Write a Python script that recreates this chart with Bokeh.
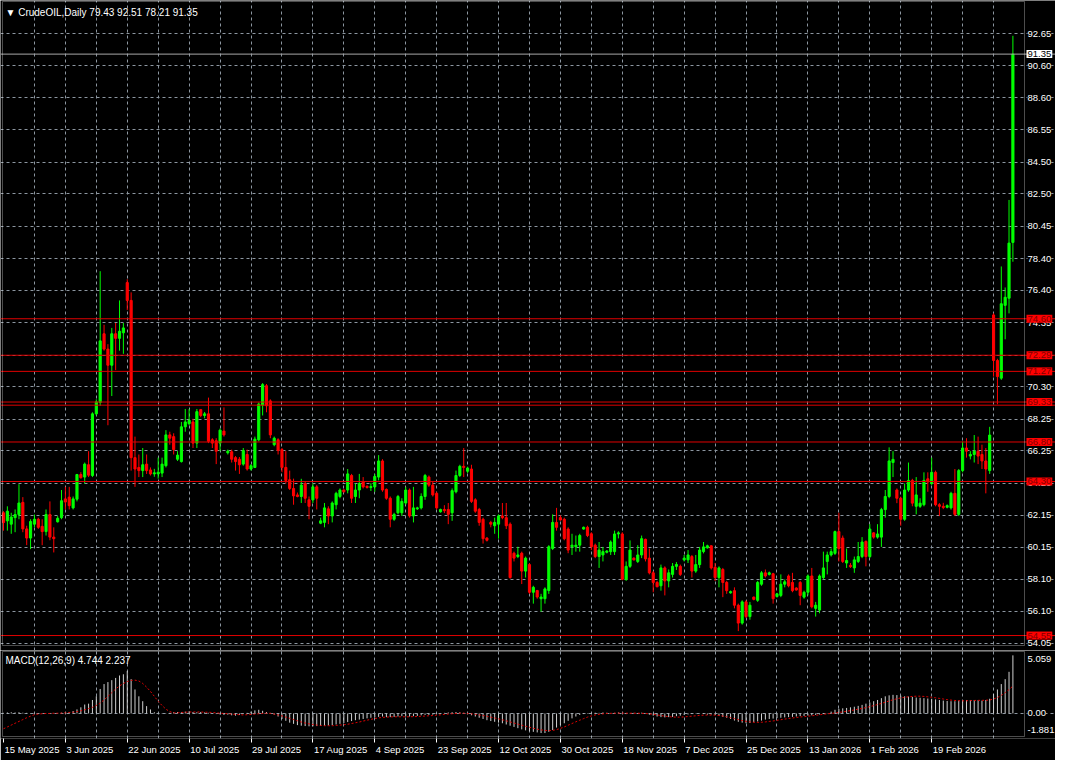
from bokeh.plotting import figure
from bokeh.models import (Range1d, LinearAxis, FixedTicker, Grid, Span, Label,
                          BoxAnnotation, ColumnDataSource)
from bokeh.layouts import column
from bokeh.embed import file_html
from bokeh.resources import INLINE

# ---------------- data ----------------
symbol = "CrudeOIL,Daily"
macd_params = "MACD(12,26,9)"

opens = [
    62.32, 61.81, 61.60, 62.01, 62.21, 62.98, 61.30, 60.72, 61.60, 61.91,
    61.46, 61.13, 62.21, 60.78, 61.75, 62.01, 63.20, 63.31, 62.63, 63.18,
    64.74, 64.58, 65.36, 64.68, 68.58, 69.30, 73.65, 72.68, 71.66, 73.65,
    73.36, 73.71, 76.89, 75.76, 65.81, 65.19, 64.99, 65.40, 65.03, 64.78,
    64.78, 64.83, 65.30, 67.25, 67.14, 65.71, 65.56, 67.76, 67.96, 68.07,
    66.73, 68.85, 68.48, 68.58, 66.94, 66.88, 66.73, 67.49, 66.12, 66.18,
    65.81, 65.71, 65.40, 66.01, 65.09, 65.19, 66.94, 69.13, 70.36, 69.40,
    66.63, 66.94, 66.32, 65.19, 64.41, 63.86, 63.45, 63.35, 64.17, 63.14,
    63.14, 63.96, 61.66, 61.71, 62.57, 62.12, 62.83, 63.35, 63.76, 63.76,
    64.68, 63.35, 63.76, 64.27, 64.00, 63.92, 63.96, 64.58, 65.60, 63.80,
    63.24, 61.91, 62.32, 62.32, 62.94, 63.76, 62.12, 62.57, 62.63, 63.35,
    64.58, 64.07, 63.55, 62.38, 62.53, 62.53, 62.32, 63.65, 64.68, 65.26,
    64.95, 65.09, 63.14, 62.53, 61.91, 60.72, 61.71, 61.50, 61.60, 62.12,
    62.01, 61.60, 59.76, 59.55, 59.76, 58.63, 59.04, 57.29, 57.40, 56.88,
    56.88, 57.40, 60.06, 61.71, 62.01, 61.91, 61.29, 60.17, 60.17, 60.27,
    61.29, 61.40, 60.99, 60.27, 59.55, 59.65, 59.82, 59.86, 59.86, 60.98,
    60.98, 58.11, 58.93, 59.45, 59.24, 59.65, 60.64, 59.45, 58.52, 57.91,
    57.70, 58.83, 58.01, 58.42, 58.93, 58.93, 59.34, 59.34, 59.55, 58.63,
    59.04, 59.86, 60.10, 60.23, 58.87, 58.22, 58.73, 57.91, 57.25, 57.39,
    56.47, 55.34, 56.68, 55.75, 56.98, 56.78, 57.80, 58.52, 58.42, 58.46,
    57.02, 57.09, 57.80, 58.32, 57.91, 57.56, 57.91, 56.98, 57.29, 58.32,
    56.27, 56.16, 58.22, 59.24, 59.65, 59.75, 61.13, 60.72, 59.14, 58.99,
    58.83, 59.24, 59.55, 60.51, 59.55, 61.05, 60.78, 60.78, 62.52, 63.35,
    65.50, 63.76, 63.24, 61.91, 63.76, 64.37, 62.73, 62.73, 62.83, 64.47,
    64.17, 64.88, 62.83, 62.73, 62.67, 62.63, 63.55, 62.22, 64.99, 66.42,
    65.91, 66.01, 66.22, 66.01, 65.60, 64.99, 74.84, 71.96, 70.84, 75.45,
    75.90, 79.43,
]
highs = [
    62.42, 62.73, 62.32, 62.53, 64.13, 63.31, 61.50, 61.91, 62.21, 62.01,
    61.91, 62.53, 63.04, 61.40, 62.11, 63.76, 63.96, 63.96, 63.35, 64.78,
    64.89, 65.50, 66.22, 68.68, 69.50, 77.61, 74.22, 72.99, 74.02, 74.33,
    75.76, 74.33, 77.10, 76.27, 67.14, 66.01, 66.42, 66.01, 65.19, 65.10,
    65.81, 65.81, 67.55, 67.45, 67.35, 66.22, 68.07, 68.89, 68.89, 68.27,
    68.89, 68.89, 68.70, 69.61, 67.04, 67.04, 67.65, 68.99, 66.32, 66.32,
    65.91, 65.85, 66.42, 66.32, 65.40, 67.14, 69.30, 70.53, 70.47, 69.50,
    67.14, 67.04, 66.42, 66.22, 64.99, 64.48, 63.60, 64.47, 64.27, 63.35,
    64.17, 64.07, 62.01, 62.94, 62.73, 63.04, 63.65, 63.86, 63.80, 65.09,
    64.78, 64.17, 64.78, 64.58, 64.05, 64.20, 64.78, 65.97, 65.71, 63.86,
    63.35, 62.32, 63.45, 63.24, 63.96, 63.86, 63.96, 62.70, 63.55, 64.78,
    64.68, 64.27, 63.65, 62.58, 62.80, 62.94, 63.86, 64.99, 65.36, 66.42,
    65.24, 65.36, 63.24, 62.63, 62.01, 60.78, 61.81, 62.01, 62.22, 62.94,
    62.94, 61.71, 59.86, 60.17, 59.86, 59.55, 59.14, 57.70, 57.44, 57.19,
    57.60, 60.27, 62.22, 62.63, 62.16, 62.01, 61.40, 60.99, 60.88, 60.99,
    61.45, 61.50, 61.09, 60.37, 60.47, 60.16, 59.96, 60.57, 61.19, 61.15,
    61.09, 59.24, 60.57, 59.50, 60.27, 60.88, 60.68, 60.06, 58.63, 58.01,
    59.04, 58.93, 58.73, 59.14, 59.20, 59.04, 59.65, 59.96, 59.65, 59.65,
    60.16, 60.47, 60.30, 60.27, 59.14, 58.93, 58.83, 58.01, 57.40, 57.60,
    56.57, 56.78, 56.78, 56.68, 57.02, 58.01, 58.63, 58.73, 58.60, 58.52,
    57.25, 58.42, 58.10, 58.42, 58.52, 57.60, 58.01, 57.39, 58.42, 58.83,
    56.68, 58.42, 59.86, 59.86, 60.06, 61.19, 62.32, 60.88, 60.06, 59.14,
    59.55, 60.47, 60.78, 60.57, 61.60, 61.09, 61.60, 62.63, 63.76, 66.46,
    66.22, 63.86, 63.34, 64.17, 65.50, 64.47, 64.58, 63.24, 64.88, 64.88,
    65.81, 64.99, 62.93, 62.95, 62.85, 63.65, 65.09, 65.09, 66.83, 67.04,
    66.22, 67.24, 67.14, 66.63, 66.42, 67.76, 74.94, 72.07, 77.91, 76.58,
    82.12, 92.51,
]
lows = [
    61.19, 61.19, 60.99, 61.09, 61.91, 61.09, 60.27, 60.02, 61.40, 61.30,
    60.27, 60.88, 60.58, 59.81, 61.70, 61.91, 62.53, 62.53, 62.53, 63.04,
    64.48, 64.17, 64.58, 64.58, 68.48, 69.09, 72.58, 67.86, 69.71, 71.35,
    72.58, 72.38, 75.15, 64.99, 63.96, 64.58, 64.58, 64.78, 64.68, 64.60,
    64.48, 64.58, 65.19, 66.63, 66.01, 65.60, 65.50, 67.45, 67.86, 66.42,
    66.42, 68.37, 68.30, 66.73, 66.42, 65.40, 66.22, 67.14, 66.01, 65.50,
    64.99, 64.78, 65.30, 64.99, 64.99, 65.15, 66.84, 68.48, 68.68, 67.04,
    66.53, 66.01, 64.89, 64.17, 63.76, 62.83, 63.30, 62.94, 62.94, 61.91,
    62.94, 62.53, 61.60, 61.40, 61.60, 61.71, 62.53, 63.24, 63.60, 63.55,
    62.94, 62.94, 63.24, 63.86, 63.85, 63.70, 63.65, 64.37, 63.65, 63.14,
    61.40, 61.81, 62.22, 62.12, 62.83, 62.01, 61.71, 62.50, 62.53, 63.14,
    63.96, 63.35, 62.53, 62.33, 62.30, 61.60, 61.81, 63.55, 64.58, 64.58,
    64.83, 62.94, 62.32, 61.50, 60.37, 60.50, 61.40, 60.99, 60.68, 61.91,
    61.29, 58.15, 59.24, 59.45, 57.81, 58.22, 57.19, 56.57, 56.88, 56.06,
    56.57, 57.19, 59.96, 61.19, 61.81, 60.58, 59.76, 59.65, 59.86, 59.86,
    61.25, 60.78, 59.96, 59.45, 58.83, 59.24, 59.75, 59.65, 59.65, 60.70,
    58.05, 58.01, 58.83, 59.30, 59.14, 59.45, 59.24, 58.42, 57.29, 57.60,
    57.39, 57.09, 57.60, 58.22, 58.70, 58.32, 59.24, 59.14, 58.22, 58.52,
    58.83, 59.75, 60.05, 58.73, 58.01, 57.60, 56.98, 57.19, 57.20, 56.27,
    54.83, 55.24, 55.65, 55.55, 56.78, 56.68, 57.70, 58.22, 58.35, 56.57,
    56.95, 56.98, 57.60, 57.60, 57.29, 57.40, 56.47, 56.88, 57.09, 56.27,
    55.75, 55.96, 58.11, 58.42, 59.55, 59.65, 59.24, 59.14, 58.83, 58.83,
    58.52, 59.14, 59.45, 58.93, 59.45, 60.68, 60.68, 60.16, 62.01, 63.24,
    64.58, 62.93, 61.50, 61.81, 63.65, 62.73, 62.22, 62.63, 62.73, 63.65,
    64.07, 62.73, 62.11, 62.55, 62.60, 62.52, 62.11, 62.11, 64.88, 65.81,
    65.70, 65.50, 65.40, 65.09, 63.55, 64.78, 70.94, 69.19, 70.73, 73.30,
    74.94, 78.21,
]
closes = [
    61.70, 62.42, 62.05, 62.21, 62.94, 61.30, 60.72, 61.77, 61.91, 61.40,
    61.13, 62.21, 60.78, 60.68, 61.97, 63.08, 63.00, 62.77, 63.20, 64.74,
    64.54, 65.40, 64.70, 68.58, 69.34, 73.20, 72.68, 71.66, 73.65, 73.36,
    73.81, 74.02, 75.76, 65.81, 65.09, 64.99, 65.36, 64.99, 64.78, 64.85,
    64.89, 65.40, 67.25, 67.04, 66.32, 65.97, 67.76, 68.07, 68.17, 66.73,
    68.72, 68.48, 68.58, 66.84, 66.73, 66.22, 67.55, 67.25, 66.22, 65.71,
    65.56, 65.36, 66.26, 65.09, 65.30, 66.98, 69.20, 70.43, 69.09, 67.25,
    67.04, 66.26, 65.19, 64.37, 63.86, 63.39, 63.35, 64.07, 63.24, 62.73,
    63.96, 63.24, 61.81, 62.63, 62.12, 62.94, 63.55, 63.76, 63.65, 64.78,
    63.24, 63.76, 64.17, 63.96, 63.92, 63.98, 64.62, 65.60, 63.76, 63.24,
    61.91, 62.22, 63.35, 63.04, 63.76, 62.12, 62.63, 62.63, 63.35, 64.68,
    64.07, 63.45, 62.63, 62.53, 62.45, 62.22, 63.72, 64.68, 65.26, 65.19,
    65.15, 63.04, 62.42, 61.71, 60.68, 60.58, 61.60, 61.71, 62.12, 62.01,
    61.50, 58.22, 59.45, 59.65, 58.63, 59.45, 57.29, 57.60, 56.99, 56.99,
    57.50, 60.17, 61.71, 61.40, 61.87, 60.68, 59.96, 60.27, 60.27, 60.88,
    61.40, 60.88, 60.17, 59.55, 59.96, 59.86, 59.90, 60.47, 60.98, 61.05,
    58.11, 58.93, 59.96, 59.34, 59.65, 60.68, 59.40, 58.52, 57.91, 57.64,
    58.83, 58.01, 58.52, 58.93, 59.05, 58.42, 59.45, 59.65, 58.63, 59.04,
    59.96, 60.16, 60.23, 58.83, 58.22, 58.83, 57.91, 57.39, 57.33, 56.47,
    55.34, 56.68, 55.75, 56.47, 56.84, 57.91, 58.52, 58.32, 58.52, 56.88,
    57.19, 57.80, 57.95, 57.70, 57.39, 57.43, 57.09, 57.29, 58.32, 56.37,
    56.47, 58.32, 58.83, 59.65, 59.86, 61.13, 60.06, 59.24, 59.30, 58.91,
    59.34, 59.55, 60.47, 59.55, 61.29, 60.78, 60.98, 62.52, 63.35, 65.60,
    65.70, 63.24, 61.91, 63.76, 64.37, 62.93, 63.45, 62.93, 64.37, 64.27,
    64.88, 62.83, 62.73, 62.65, 62.77, 63.55, 62.22, 64.99, 66.42, 66.22,
    66.01, 66.22, 65.91, 65.60, 65.09, 67.24, 71.96, 70.94, 75.55, 75.96,
    79.39, 91.35,
]
macd_main = [
    0.05, 0.08, 0.10, 0.08, 0.10, 0.06, 0.05, 0.03, 0.02, 0.03,
    0.02, 0.00, 0.03, 0.02, 0.03, 0.06, 0.10, 0.12, 0.20, 0.33,
    0.50, 0.73, 0.80, 1.10, 1.40, 2.00, 2.40, 2.56, 2.72, 2.90,
    3.10, 3.20, 3.46, 2.80, 1.96, 1.40, 1.00, 0.60, 0.33, 0.10,
    0.05, 0.03, 0.02, 0.05, 0.10, 0.12, 0.10, 0.15, 0.18, 0.12,
    0.10, 0.12, 0.08, 0.05, 0.02, -0.05, -0.08, -0.12, -0.10, -0.15,
    -0.18, -0.12, -0.05, 0.05, 0.15, 0.25, 0.30, 0.22, 0.12, 0.05,
    -0.10, -0.25, -0.45, -0.60, -0.75, -0.85, -0.95, -1.00, -1.03, -1.05,
    -1.05, -1.03, -1.02, -1.00, -0.98, -0.95, -0.90, -0.85, -0.78, -0.70,
    -0.62, -0.55, -0.50, -0.45, -0.40, -0.35, -0.32, -0.28, -0.25, -0.30,
    -0.30, -0.28, -0.25, -0.22, -0.25, -0.25, -0.22, -0.20, -0.15, -0.12,
    -0.12, -0.10, -0.05, 0.02, 0.05, 0.08, 0.10, 0.12, 0.10, 0.05,
    -0.05, -0.15, -0.25, -0.35, -0.45, -0.55, -0.62, -0.68, -0.75, -0.80,
    -0.90, -1.00, -1.10, -1.20, -1.30, -1.38, -1.45, -1.50, -1.55, -1.60,
    -1.60, -1.50, -1.35, -1.15, -0.95, -0.80, -0.60, -0.40, -0.25, -0.12,
    -0.05, 0.03, 0.05, 0.06, 0.05, 0.08, 0.06, 0.04, 0.05, 0.08,
    0.02, -0.05, 0.02, 0.05, 0.03, 0.06, 0.02, -0.10, -0.18, -0.25,
    -0.30, -0.32, -0.30, -0.28, -0.22, -0.18, -0.12, -0.08, -0.05, -0.02,
    0.02, -0.05, -0.10, -0.08, -0.12, -0.20, -0.28, -0.35, -0.45, -0.58,
    -0.68, -0.75, -0.80, -0.78, -0.72, -0.65, -0.58, -0.50, -0.45, -0.42,
    -0.38, -0.35, -0.32, -0.30, -0.28, -0.25, -0.22, -0.20, -0.18, -0.15,
    -0.12, -0.08, -0.05, -0.02, 0.15, 0.30, 0.38, 0.42, 0.45, 0.50,
    0.55, 0.62, 0.70, 0.80, 0.90, 1.00, 1.10, 1.25, 1.40, 1.48,
    1.52, 1.50, 1.45, 1.40, 1.38, 1.35, 1.30, 1.28, 1.25, 1.22,
    1.20, 1.15, 1.10, 1.05, 1.02, 1.00, 1.00, 1.05, 1.08, 1.10,
    1.10, 1.10, 1.08, 1.05, 1.10, 1.20, 1.60, 1.96, 2.40, 2.80,
    3.40, 4.744,
]
macd_signal = [
    -1.25, -1.10, -0.95, -0.80, -0.65, -0.50, -0.35, -0.22, -0.10, -0.05,
    -0.02, 0.00, 0.00, 0.02, 0.02, 0.03, 0.05, 0.08, 0.10, 0.15,
    0.22, 0.30, 0.40, 0.50, 0.65, 0.85, 1.10, 1.40, 1.70, 2.00,
    2.25, 2.45, 2.60, 2.70, 2.72, 2.65, 2.45, 2.15, 1.80, 1.40,
    1.00, 0.65, 0.35, 0.15, 0.05, 0.05, 0.08, 0.10, 0.12, 0.12,
    0.12, 0.12, 0.10, 0.10, 0.08, 0.05, 0.02, 0.00, -0.02, -0.05,
    -0.08, -0.10, -0.12, -0.10, -0.08, -0.05, -0.02, 0.00, 0.02, 0.00,
    -0.05, -0.12, -0.20, -0.30, -0.40, -0.50, -0.60, -0.70, -0.78, -0.85,
    -0.90, -0.95, -0.98, -1.00, -1.00, -1.00, -0.98, -0.95, -0.92, -0.88,
    -0.82, -0.76, -0.70, -0.62, -0.55, -0.48, -0.42, -0.36, -0.32, -0.30,
    -0.28, -0.27, -0.27, -0.27, -0.27, -0.27, -0.26, -0.25, -0.23, -0.21,
    -0.19, -0.17, -0.14, -0.11, -0.08, -0.05, -0.02, 0.00, 0.02, 0.02,
    0.00, -0.03, -0.07, -0.12, -0.17, -0.23, -0.30, -0.37, -0.44, -0.52,
    -0.60, -0.69, -0.78, -0.87, -0.96, -1.05, -1.13, -1.21, -1.28, -1.34,
    -1.38, -1.40, -1.38, -1.32, -1.22, -1.10, -0.96, -0.82, -0.68, -0.55,
    -0.42, -0.30, -0.20, -0.12, -0.07, -0.03, 0.00, 0.01, 0.02, 0.03,
    0.03, 0.02, 0.02, 0.02, 0.02, 0.01, 0.00, -0.03, -0.07, -0.12,
    -0.17, -0.22, -0.26, -0.29, -0.30, -0.30, -0.28, -0.25, -0.22, -0.19,
    -0.16, -0.14, -0.13, -0.13, -0.14, -0.17, -0.21, -0.27, -0.34, -0.42,
    -0.50, -0.58, -0.64, -0.69, -0.72, -0.73, -0.72, -0.69, -0.65, -0.61,
    -0.56, -0.51, -0.46, -0.41, -0.37, -0.33, -0.29, -0.26, -0.22, -0.19,
    -0.15, -0.11, -0.07, -0.03, 0.00, 0.04, 0.08, 0.13, 0.18, 0.23,
    0.29, 0.35, 0.41, 0.48, 0.56, 0.64, 0.73, 0.82, 0.92, 1.02,
    1.12, 1.20, 1.27, 1.32, 1.36, 1.39, 1.41, 1.41, 1.39, 1.36,
    1.32, 1.28, 1.23, 1.18, 1.13, 1.09, 1.06, 1.04, 1.03, 1.04,
    1.05, 1.06, 1.07, 1.07, 1.08, 1.10, 1.18, 1.30, 1.48, 1.70,
    1.95, 2.237,
]
date_labels = ["15 May 2025", "3 Jun 2025", "22 Jun 2025", "10 Jul 2025",
               "29 Jul 2025", "17 Aug 2025", "4 Sep 2025", "23 Sep 2025",
               "12 Oct 2025", "30 Oct 2025", "18 Nov 2025", "7 Dec 2025",
               "25 Dec 2025", "13 Jan 2026", "1 Feb 2026", "19 Feb 2026"]
date_label_bars = [0, 16, 32, 48, 64, 80, 96, 112, 128, 144, 160, 176,
                   192, 208, 224, 240]
price_ticks = [54.05, 56.10, 58.10, 60.15, 62.15, 64.20, 66.25, 68.25, 70.30,
               72.30, 74.35, 76.40, 78.40, 80.45, 82.50, 84.50, 86.55, 88.60,
               90.60, 92.65]
level_lines = [74.60, 72.29, 71.27, 69.33, 66.80, 64.30, 54.55]
extra_level_lines = [69.13]
macd_max, macd_min = 5.059, -1.881
price_top, price_bottom = 94.68, 53.92   # price at the pane's top / bottom border

n = len(opens)
lens = [len(a) for a in (opens, highs, lows, closes, macd_main, macd_signal)]
assert all(l == n for l in lens), lens

# ---------------- layout / style ----------------
W = 1055
PRICE_H = 650
MACD_H = 110
MACD_AXIS_H = 22
X0 = 3.0               # pixel of bar 0
AXIS_PX = 1024.0       # pixel of the pane's right border (price scale to its right)
PXB = (AXIS_PX - X0) / 264.0   # pixels per bar
LEFT_PX = 2.0          # pixel of the pane's left border
FONT = "Liberation Sans"
FS = "9.5px"
GRID = dict(grid_line_color="#8c96a0", grid_line_dash="3 3", grid_line_width=1)
BULL, BEAR = "#00ff00", "#ff0000"
LEVEL_RED = "#e00000"


def bar_at(px):
    return (px - X0) / PXB


x_lo, x_hi = bar_at(0), bar_at(W)
axis_bar = bar_at(AXIS_PX)
left_bar = bar_at(LEFT_PX)
xr = Range1d(x_lo, x_hi)
vgrid = list(range(8, int(axis_bar), 8))

# price pane vertical mapping: border top at y=1, bottom border at y=PRICE_H-5
ppu = (PRICE_H - 6) / (price_top - price_bottom)
y_hi = price_top + 1 / ppu
y_lo = y_hi - PRICE_H / ppu

idx = list(range(n))
src = ColumnDataSource(dict(
    x=idx, h=highs, l=lows,
    top=[max(o, c) for o, c in zip(opens, closes)],
    bot=[min(o, c) for o, c in zip(opens, closes)],
    color=[BULL if c >= o else BEAR for o, c in zip(opens, closes)],
))


def base_fig(h, yr, min_bottom):
    return figure(width=W, height=h, x_range=xr, y_range=yr,
                  x_axis_type=None, y_axis_type=None, toolbar_location=None,
                  output_backend="svg", background_fill_color="black",
                  border_fill_color="black", outline_line_color=None,
                  min_border_left=0, min_border_right=0, min_border_top=0,
                  min_border_bottom=min_bottom)


def axis_label(f, y, text, color="white", bg="black", y_offset=0, pad=0):
    f.add_layout(Label(x=axis_bar, y=y, x_offset=3 - pad, y_offset=y_offset, text=text,
                       text_baseline="middle", text_align="left", text_font=FONT,
                       text_font_size=FS, text_color=color,
                       background_fill_color=bg, padding=pad))


# ---------------- price pane ----------------
p = base_fig(PRICE_H, Range1d(y_lo, y_hi), 0)
p.add_layout(Grid(dimension=0, ticker=FixedTicker(ticks=vgrid), **GRID))
p.add_layout(Grid(dimension=1, ticker=FixedTicker(ticks=price_ticks), **GRID))

p.segment(x0="x", y0="l", x1="x", y1="h", line_color="color", line_width=1, source=src)
p.vbar(x="x", width=0.55, top="top", bottom="bot", fill_color="color",
       line_color="color", line_width=1, source=src)

for lv in level_lines + extra_level_lines:
    p.add_layout(Span(location=lv, dimension="width", line_color=LEVEL_RED, line_width=1))
p.add_layout(Span(location=closes[-1], dimension="width", line_color="#a8a8a8", line_width=1))

p.add_layout(BoxAnnotation(left=left_bar, right=axis_bar, top=price_top, bottom=price_bottom,
                           fill_alpha=0, fill_color=None, line_color="white", line_width=1))

for t in price_ticks:
    axis_label(p, t, f"{t:.2f}")
for lv in level_lines:
    axis_label(p, lv, f"{lv:.2f}", color="#800000", bg="#ff0000", pad=1)
axis_label(p, closes[-1], f"{closes[-1]:.2f}", color="black", bg="white", pad=1)

title_txt = "\u25bc {}  {:.2f} {:.2f} {:.2f} {:.2f}".format(
    symbol, opens[-1], highs[-1], lows[-1], closes[-1])
p.add_layout(Label(x=left_bar, y=price_top, x_offset=3, y_offset=-11, text=title_txt,
                   text_baseline="middle", text_align="left", text_font=FONT,
                   text_font_size="10px", text_color="white"))

# ---------------- MACD pane ----------------
macd_frame_h = MACD_H - MACD_AXIS_H
mpu = (macd_frame_h - 3) / (macd_max - macd_min)
m_hi = macd_max + 1 / mpu
m_lo = m_hi - macd_frame_h / mpu
m = base_fig(MACD_H, Range1d(m_lo, m_hi), MACD_AXIS_H)
m.add_layout(Grid(dimension=0, ticker=FixedTicker(ticks=vgrid), **GRID))
m.add_layout(Grid(dimension=1, ticker=FixedTicker(ticks=[0.0]), **GRID))

m.segment(x0=idx, y0=[0.0] * n, x1=idx, y1=macd_main, line_color="#d0d0d0", line_width=1)
m.line(idx, macd_signal, line_color="#e00000", line_dash="2 2", line_width=1)

m.add_layout(BoxAnnotation(left=left_bar, right=axis_bar, top=macd_max, bottom=macd_min,
                           fill_alpha=0, fill_color=None, line_color="white", line_width=1))
axis_label(m, macd_max, f"{macd_max:.3f}", y_offset=-7)
axis_label(m, 0.0, "0.00")
axis_label(m, macd_min, f"{macd_min:.3f}", y_offset=7)

m.add_layout(Label(x=left_bar, y=macd_max, x_offset=3, y_offset=-9,
                   text=f"{macd_params} {macd_main[-1]:.3f} {macd_signal[-1]:.3f}",
                   text_baseline="middle", text_align="left", text_font=FONT,
                   text_font_size="10px", text_color="white"))

# x axis: tick marks at label start, labels left-aligned from there
CW = {"0": 556, "1": 556, "2": 556, "3": 556, "4": 556, "5": 556, "6": 556,
      "7": 556, "8": 556, "9": 556, " ": 278, "M": 833, "J": 500, "S": 667,
      "O": 778, "N": 722, "D": 722, "F": 611, "A": 667, "a": 556, "y": 500,
      "u": 556, "n": 556, "l": 222, "g": 556, "e": 556, "p": 556, "c": 500,
      "t": 278, "o": 556, "v": 500, "b": 556}
DATE_FS = 9.5
label_pos = []
for b, s in zip(date_label_bars, date_labels):
    w = sum(CW.get(ch, 556) for ch in s) * DATE_FS / 1000.0
    label_pos.append(b + (w / 2 + 1) / PXB)

tick_ax = LinearAxis(ticker=FixedTicker(ticks=date_label_bars),
                     major_label_overrides={b: "" for b in date_label_bars},
                     axis_line_color=None, major_tick_line_color="white",
                     minor_tick_line_color=None, major_tick_out=4, major_tick_in=0,
                     major_label_standoff=0, major_label_text_font_size="1px")
lab_ax = LinearAxis(ticker=FixedTicker(ticks=label_pos),
                    major_label_overrides={lp: s for lp, s in zip(label_pos, date_labels)},
                    axis_line_color=None, major_tick_line_color=None,
                    minor_tick_line_color=None, major_tick_out=0, major_tick_in=0,
                    major_label_standoff=1, major_label_text_color="white",
                    major_label_text_font=FONT, major_label_text_font_size=f"{DATE_FS}px")
m.add_layout(tick_ax, "below")
m.add_layout(lab_ax, "below")

layout = column(p, m, spacing=0)
open("out.html", "w").write(file_html(layout, INLINE))
